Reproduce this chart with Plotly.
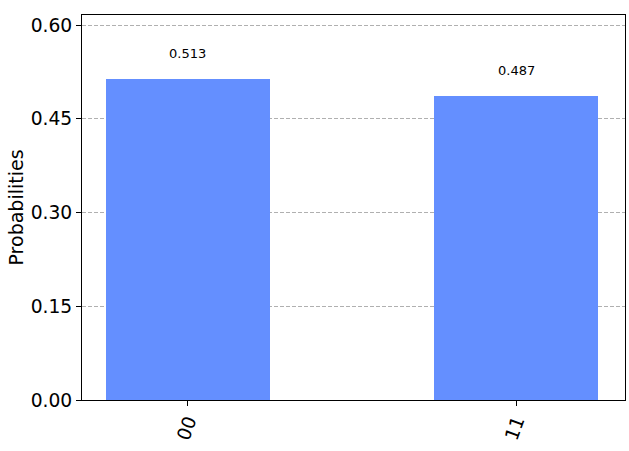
import plotly.graph_objects as go

OUTCOMES = ['00', '11']
PROBABILITIES = [0.513, 0.487]
Y_TICKS = [0.0, 0.15, 0.30, 0.45, 0.60]
Y_TICK_LABELS = ['0.00', '0.15', '0.30', '0.45', '0.60']

BAR_COLOR = '#648fff'
FONT = 'DejaVu Sans'
MARGINS = dict(l=82, r=4, t=15, b=51)
PLOT_WIDTH = 629 - MARGINS['l'] - MARGINS['r']

positions = list(range(len(OUTCOMES)))

fig = go.Figure(data=go.Bar(
    x=positions,
    y=PROBABILITIES,
    width=0.5,
    marker=dict(color=BAR_COLOR, line=dict(width=0)),
    hoverinfo='x+y',
))

for pos, p in zip(positions, PROBABILITIES):
    fig.add_annotation(
        x=pos, y=p, text=f'{p:.3f}',
        showarrow=False, yanchor='bottom', yshift=16,
        font=dict(family=FONT, size=13, color='black'),
    )

# y title as a paper annotation so it sits where matplotlib put it
fig.add_annotation(
    x=(15 - MARGINS['l']) / PLOT_WIDTH, xref='paper', xanchor='center',
    y=0.5, yref='paper', yanchor='middle',
    text='Probabilities', textangle=-90, showarrow=False,
    font=dict(family=FONT, size=19, color='black'),
)

fig.update_layout(
    width=629, height=451,
    margin=MARGINS,
    plot_bgcolor='white',
    paper_bgcolor='white',
    font=dict(family=FONT, color='black'),
    showlegend=False,
    bargap=0,
)

fig.update_xaxes(
    range=[-0.323, 1.332],
    tickmode='array', tickvals=positions, ticktext=OUTCOMES,
    tickangle=-70,
    tickfont=dict(family=FONT, size=18.7),
    ticklabelstandoff=-3,
    ticks='outside', ticklen=5, tickcolor='black',
    showline=True, linecolor='black', linewidth=1, mirror=True,
    showgrid=False, zeroline=False, automargin=False,
)

fig.update_yaxes(
    range=[0, 0.616],
    tickmode='array', tickvals=Y_TICKS, ticktext=Y_TICK_LABELS,
    tickfont=dict(family=FONT, size=18.7),
    ticks='outside', ticklen=5, tickcolor='black',
    showline=True, linecolor='black', linewidth=1, mirror=True,
    showgrid=True, gridcolor='#b0b0b0', griddash='4px,2px', gridwidth=0.8,
    zeroline=False, automargin=False,
)

fig.write_html(
    'out.html',
    config={'displayModeBar': False},
    post_script="document.body.style.margin = '0';",
)
